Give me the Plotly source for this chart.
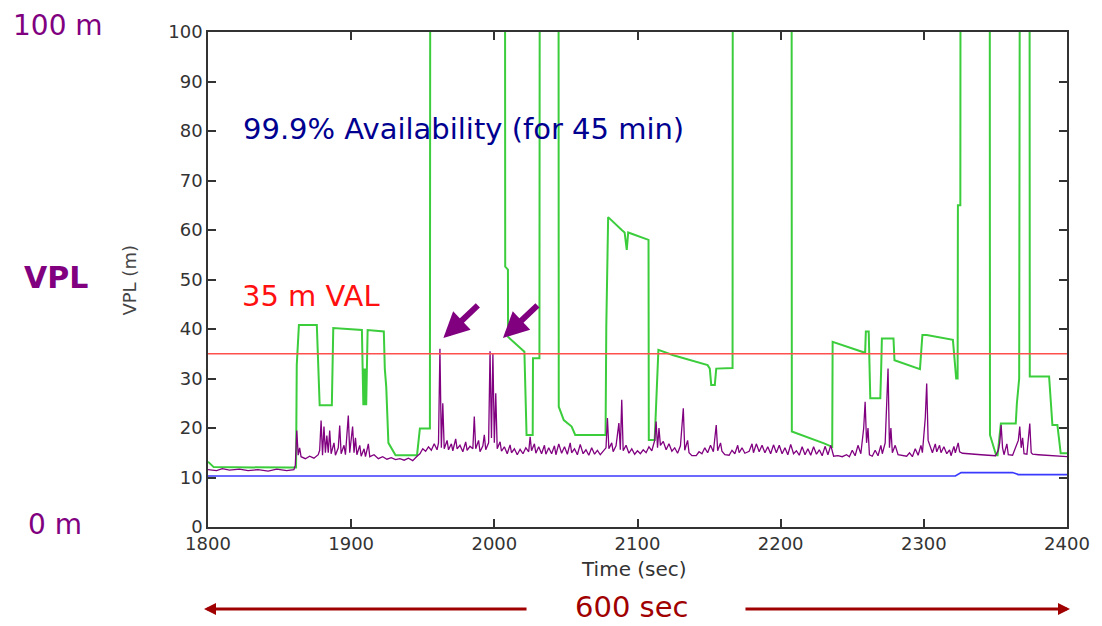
import plotly.graph_objects as go

# ---- data -------------------------------------------------------------
# VPL with the standard geometry (green), values above 100 run off the plot
green_t = [1800, 1804, 1857, 1861.5, 1862, 1863.5, 1876, 1877, 1878, 1886.5, 1887.5,
           1907.5, 1908, 1908.5, 1909, 1909.5, 1910, 1910.5, 1911.5, 1922.8, 1923.5,
           1924.5, 1926, 1931, 1946, 1948, 1955, 1955.3, 2007.4, 2007.6, 2009.5,
           2009.6, 2021, 2021.5, 2022.5, 2026.8, 2027, 2031.5, 2031.8, 2044.8, 2045,
           2048.5, 2054, 2056.5, 2077.7, 2078.2, 2079.5, 2089, 2091, 2092.5, 2093.5,
           2107.7, 2107.9, 2112, 2114.6, 2125, 2149, 2150.5, 2151.5, 2154, 2155,
           2166.4, 2166.6, 2207.6, 2207.8, 2230.3, 2236, 2236.3, 2258, 2259, 2259.5,
           2261.5, 2262.6, 2269.6, 2270.2, 2270.7, 2278.8, 2279.5, 2297.3, 2299, 2302,
           2320.3, 2322.6, 2323.6, 2323.8, 2325.5, 2325.7, 2346, 2346.2, 2350.5, 2351.5,
           2353.8, 2364.2, 2365, 2366.6, 2367.2, 2373.8, 2374, 2387.5, 2389.8, 2393.3,
           2395.6, 2400]
green_v = [13.2, 12.1, 12.0, 12.0, 32.7, 40.8, 40.8, 32.4, 24.6, 24.6, 40.2,
           39.8, 32, 24.6, 32, 24.6, 32, 24.6, 39.8, 39.5, 32,
           28.3, 17, 14.5, 14.5, 19.9, 19.9, 150, 150, 52.6, 52,
           38.4, 35.4, 30, 18.6, 18.6, 34.1, 34.1, 150, 150, 24.3,
           21.6, 20.3, 18.6, 18.6, 40.5, 62.6, 60, 59.5, 56, 59.5,
           58, 17.6, 17.6, 35.8, 34.7, 32.7, 32, 28.7, 28.7, 32,
           32.1, 150, 150, 19.3, 16.9, 16.2, 37.4, 35.2, 35.2, 39.5,
           39.5, 26, 26, 32, 38.1, 38.1, 33.7, 31.9, 38.8, 38.8,
           37.8, 30, 30, 65, 65, 150, 150, 18.6, 14.5, 14.5,
           20.9, 20.9, 25, 30, 150, 150, 30.4, 30.4, 20.6, 20.6,
           14.9, 14.9]

# VPL (purple)
vpl_t = [1800, 1806, 1810, 1815, 1822, 1828, 1835, 1842, 1848, 1855, 1860, 1861, 1862,
         1863, 1864, 1865, 1868, 1871, 1874, 1877, 1878, 1879, 1880, 1881, 1882, 1883,
         1884, 1885, 1886, 1888, 1889, 1891, 1892, 1893, 1895, 1896, 1898, 1899, 1901,
         1902, 1903, 1904, 1906, 1907, 1909, 1910, 1912, 1913, 1916, 1919, 1922, 1925,
         1928, 1931, 1934, 1937, 1940, 1943, 1946, 1948, 1950, 1952, 1954, 1956, 1958,
         1960, 1961, 1962, 1963, 1964, 1965, 1967, 1968, 1970, 1971, 1973, 1974, 1976,
         1978, 1980, 1981, 1983, 1985, 1986, 1987, 1989, 1990, 1992, 1993, 1994, 1996,
         1997, 1998, 1999, 2000, 2001, 2002, 2004, 2005, 2007, 2009, 2011, 2012, 2014,
         2016, 2018, 2020, 2022, 2024, 2025, 2026, 2028, 2029, 2031, 2033, 2035, 2036,
         2038, 2040, 2042, 2043, 2045, 2047, 2049, 2051, 2053, 2054, 2056, 2058, 2060,
         2062, 2064, 2066, 2068, 2070, 2072, 2074, 2076, 2078, 2079, 2080, 2082, 2083,
         2085, 2087, 2088, 2089, 2090, 2092, 2094, 2096, 2098, 2100, 2102, 2104, 2106,
         2108, 2110, 2112, 2113, 2114, 2115, 2116, 2118, 2120, 2122, 2124, 2126, 2128,
         2130, 2132, 2133, 2135, 2136, 2138, 2141, 2143, 2145, 2147, 2149, 2151, 2153,
         2155, 2156, 2158, 2159, 2161, 2164, 2166, 2168, 2170, 2171, 2173, 2175, 2178,
         2180, 2181, 2183, 2185, 2187, 2189, 2191, 2193, 2195, 2197, 2199, 2201, 2203,
         2205, 2207, 2209, 2211, 2213, 2215, 2217, 2219, 2221, 2223, 2225, 2227, 2229,
         2231, 2233, 2235, 2237, 2240, 2243, 2246, 2248, 2250, 2252, 2254, 2256, 2258,
         2259, 2260, 2261, 2262, 2264, 2266, 2268, 2270, 2271, 2273, 2274, 2275, 2276,
         2277, 2278, 2280, 2282, 2285, 2288, 2290, 2292, 2294, 2296, 2298, 2299, 2301,
         2302, 2303, 2304, 2306, 2308, 2309, 2311, 2312, 2314, 2316, 2318, 2319, 2321,
         2322, 2324, 2325, 2327, 2330, 2335, 2340, 2345, 2350, 2352, 2353, 2354, 2355,
         2356, 2358, 2359, 2362, 2364, 2366, 2367, 2368, 2369, 2370, 2372, 2374, 2375,
         2376, 2380, 2385, 2390, 2395, 2400]
vpl_v = [11.6, 11.4, 11.8, 11.5, 11.7, 11.4, 11.6, 11.3, 11.7, 11.4, 11.6, 12.5, 19.5,
         14.5, 16, 14.2, 13.8, 14.3, 13.9, 14.6, 15.5, 21.5, 14.5, 20.3, 15, 18.5,
         15, 19.5, 14.8, 17, 14.5, 16, 20.5, 14.8, 16.5, 14.6, 22.5, 15, 20.3,
         15, 18, 14.6, 16.5, 14.3, 15.8, 14.2, 16.8, 14.2, 14.6, 13.8, 14.2, 13.7,
         14, 13.6, 13.8, 13.5, 13.9, 13.4, 14.3, 14.8, 15.8, 15.3, 16.2, 15.5, 16.8,
         15.6, 17, 36, 16, 25, 15.8, 17.5, 15.6, 16.8, 15.4, 17.8, 15.8, 16.5,
         15.2, 17.2, 15.5, 16.3, 15.8, 22.3, 15.8, 17.5, 15.2, 16.4, 18.6, 15.6, 17,
         35.5, 18, 35, 17, 27, 15.8, 17.2, 15.3, 16.2, 14.8, 16.6, 15, 15.8,
         14.6, 15.7, 14.8, 16, 15.2, 18.2, 15.4, 16.8, 14.9, 16.2, 14.8, 16.5, 14.7,
         16, 14.8, 16.4, 14.6, 16.8, 14.9, 16.2, 14.7, 17, 15, 15.8, 14.6, 16.7,
         14.8, 15.6, 14.5, 16, 14.7, 15.5, 14.6, 15.2, 16, 22, 15.8, 17, 15.2,
         16.4, 21, 15.6, 25.7, 15.4, 16.5, 14.9, 15.8, 14.7, 15.4, 14.8, 15.6, 15,
         16.2, 15.4, 17.5, 21.3, 16, 20, 16.5, 17.3, 15.6, 16.8, 15.3, 16, 14.9,
         16.4, 24, 15.5, 17.5, 15, 14.4, 14.4, 15.2, 14.8, 16, 15, 16.5, 15.2,
         20.6, 15.4, 17, 15.3, 14.6, 14.5, 15.5, 14.8, 16.5, 15, 16, 14.9, 15.3,
         16.8, 15, 16.8, 15.2, 16.5, 15, 16.2, 14.8, 16.6, 15, 16.5, 14.8, 16,
         14.6, 16.7, 14.8, 15.4, 14.5, 16.2, 14.6, 15.8, 14.5, 16.2, 14.7, 15.6, 14.4,
         16.3, 14.6, 16.5, 14.3, 14.4, 14.2, 14.6, 14.2, 15.5, 14.4, 16.5, 14.8, 20,
         25.3, 17, 20, 14.6, 14.3, 15.5, 14.4, 16.5, 14.8, 17, 23, 32, 16,
         20, 15, 16.5, 14.6, 14.4, 14.3, 15, 14.2, 15.8, 14.5, 16.5, 15, 22,
         29, 17.5, 16.5, 15, 16.8, 15.2, 16.5, 15, 16.2, 14.8, 15.6, 14.4, 16.3,
         15, 17, 15.2, 14.9, 14.8, 14.7, 14.6, 14.5, 14.4, 15.5, 17, 20.6, 16,
         14.6, 16.8, 14.6, 14.5, 16, 17.5, 20.3, 16, 18, 14.8, 14.7, 20.9, 15,
         14.7, 14.6, 14.5, 14.4, 14.3, 14.2]

# Vertical position error (blue)
err_t = [1800, 2322, 2326, 2362, 2366, 2400]
err_v = [10.3, 10.3, 11.0, 11.0, 10.6, 10.6]

# Vertical alert limit
val_t = [1800, 2400]
val_v = [35, 35]

x_ticks = [1800, 1900, 2000, 2100, 2200, 2300, 2400]
y_ticks = [0, 10, 20, 30, 40, 50, 60, 70, 80, 90, 100]

# ---- layout helpers (pixel -> paper) ----------------------------------
W, H = 1102, 626
L, R, T, B = 208, 1073, 32, 527


def px(x):
    return (x - L) / (R - L)


def py(y):
    return (B - y) / (B - T)


FONT = "DejaVu Sans"
PURPLE = "#800080"
DARKRED = "#a00000"

fig = go.Figure()
fig.add_trace(go.Scatter(x=green_t, y=green_v, mode="lines",
                         line=dict(color="rgb(60,205,60)", width=2)))
fig.add_trace(go.Scatter(x=vpl_t, y=vpl_v, mode="lines",
                         line=dict(color=PURPLE, width=1.3)))
fig.add_trace(go.Scatter(x=err_t, y=err_v, mode="lines",
                         line=dict(color="#3a3aff", width=1.7)))
fig.add_trace(go.Scatter(x=val_t, y=val_v, mode="lines",
                         line=dict(color="#ff5050", width=1.7)))

annotations = [
    dict(text="100 m", x=px(10), y=py(26), xanchor="left", yanchor="middle",
         font=dict(family=FONT, size=28, color=PURPLE)),
    dict(text="<b>VPL</b>", x=px(21), y=py(277), xanchor="left", yanchor="middle",
         font=dict(family=FONT, size=30, color=PURPLE)),
    dict(text="0 m", x=px(25), y=py(524), xanchor="left", yanchor="middle",
         font=dict(family=FONT, size=28, color=PURPLE)),
    dict(text="99.9% Availability (for 45 min)", x=px(241), y=py(129),
         xanchor="left", yanchor="middle",
         font=dict(family=FONT, size=29, color="#000090")),
    dict(text="35 m VAL", x=px(240), y=py(296), xanchor="left", yanchor="middle",
         font=dict(family=FONT, size=29, color="#ff1010")),
    dict(text="VPL (m)", x=px(128), y=py(280), textangle=-90,
         xanchor="center", yanchor="middle",
         font=dict(family=FONT, size=18, color="#444")),
    dict(text="Time (sec)", x=px(637), y=py(569), xanchor="center", yanchor="middle",
         font=dict(family=FONT, size=20, color="#333")),
    dict(text="600 sec", x=px(634), y=py(607), xanchor="center", yanchor="middle",
         font=dict(family=FONT, size=29, color=DARKRED)),
]

# purple pointer arrows at the two VPL peaks
for tip_x in (445, 505):
    annotations.append(dict(x=px(tip_x), y=py(338), ax=36, ay=-34, text="",
                            showarrow=True, arrowhead=2, arrowwidth=6,
                            arrowsize=0.85, arrowcolor=PURPLE, standoff=0))

# 600 sec span arrows
annotations.append(dict(x=px(204), y=py(609), ax=324, ay=0, text="", showarrow=True,
                        arrowhead=2, arrowwidth=3, arrowsize=0.8,
                        arrowcolor=DARKRED, standoff=0))
annotations.append(dict(x=px(1076), y=py(609), ax=-326, ay=0, text="", showarrow=True,
                        arrowhead=2, arrowwidth=3, arrowsize=0.8,
                        arrowcolor=DARKRED, standoff=0))

for a in annotations:
    a.setdefault("xref", "paper")
    a.setdefault("yref", "paper")
    a.setdefault("showarrow", False)

axis_common = dict(showgrid=False, zeroline=False, showline=True, linecolor="#333",
                   linewidth=1.5, mirror="ticks", ticks="inside", ticklen=8,
                   tickcolor="#333", tickwidth=1.5,
                   tickfont=dict(family=FONT, size=18, color="#333"))

fig.update_layout(
    width=W, height=H,
    margin=dict(l=L, r=W - R, t=T, b=H - B),
    paper_bgcolor="white", plot_bgcolor="white",
    showlegend=False,
    xaxis=dict(range=[1800, 2400], tickvals=x_ticks, **axis_common),
    yaxis=dict(range=[0, 100], tickvals=y_ticks, **axis_common),
    annotations=annotations,
)

fig.write_html("out.html")
